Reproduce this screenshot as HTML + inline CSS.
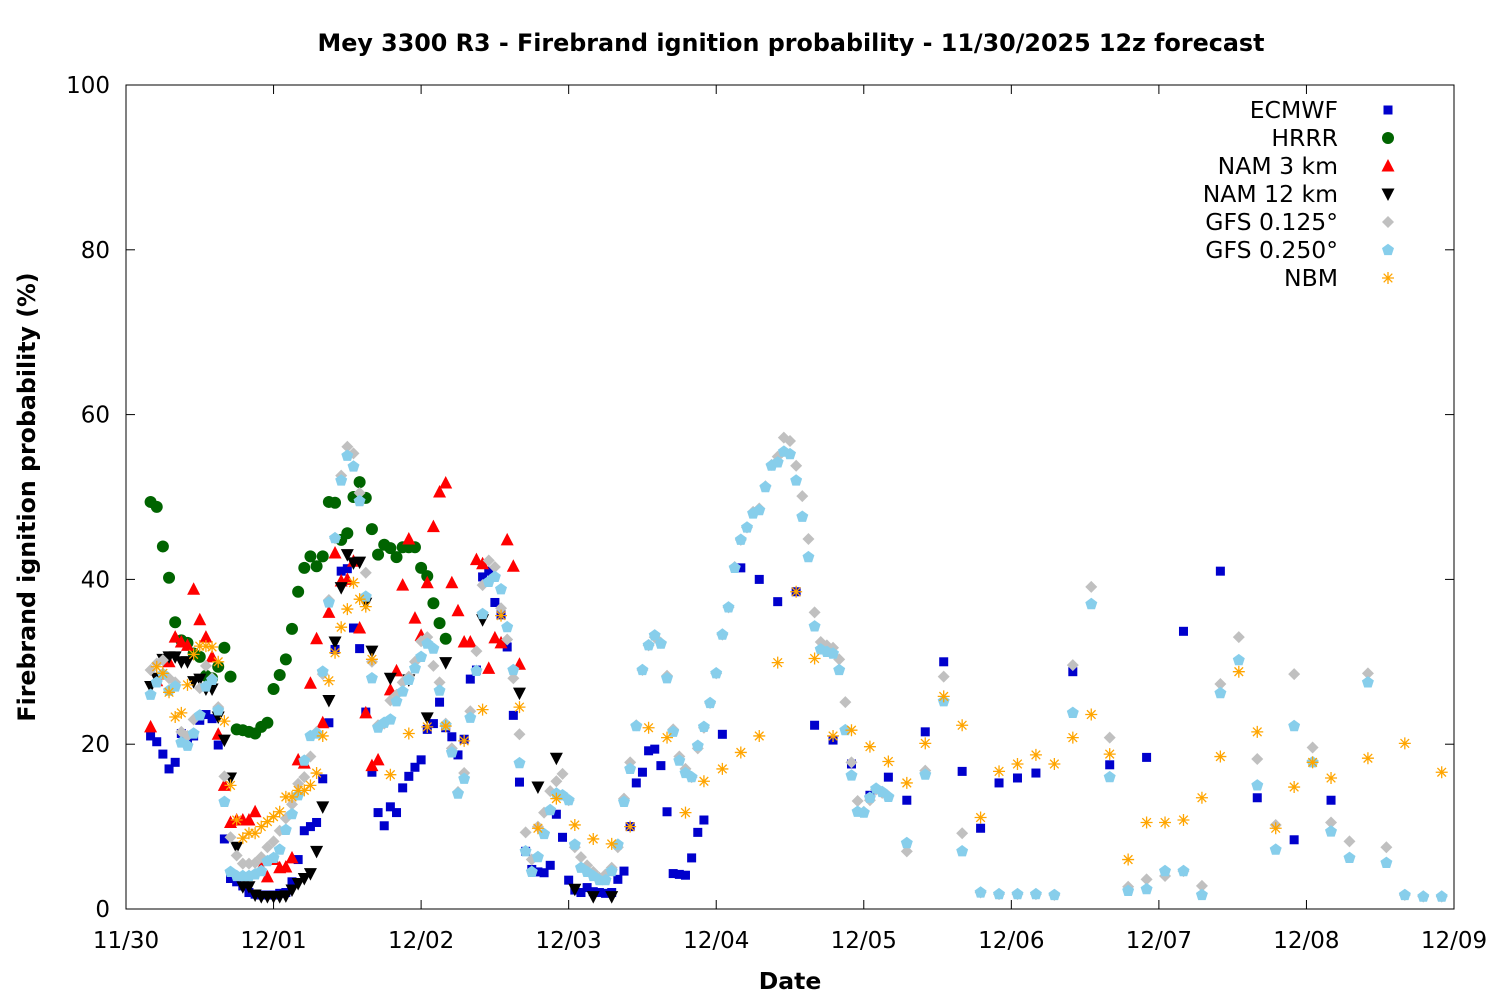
<!DOCTYPE html>
<html><head><meta charset="utf-8"><title>Firebrand ignition probability</title>
<style>
html,body{margin:0;padding:0;background:#fff;}
svg{display:block;font-family:"DejaVu Sans","Liberation Sans",sans-serif;}
</style></head>
<body>
<svg id="chart" width="1500" height="1000" viewBox="0 0 1500 1000" xmlns="http://www.w3.org/2000/svg">
<rect width="1500" height="1000" fill="#fff"/>
<text x="791" y="51" text-anchor="middle" font-size="23.8" font-weight="bold">Mey 3300 R3 - Firebrand ignition probability - 11/30/2025 12z forecast</text>
<text transform="translate(35,497) rotate(-90)" text-anchor="middle" font-size="23.7" font-weight="bold">Firebrand ignition probability (%)</text>
<text x="790" y="989" text-anchor="middle" font-size="23.5" font-weight="bold">Date</text>
<g id="axes"></g>
<g id="marks"></g>
<g id="legend"></g>
</svg>
<script>
function range(a,b,s){var r=[];for(var v=a;v<=b+1e-9;v+=s)r.push(v);return r;}
const xTickLabels=["11/30","12/01","12/02","12/03","12/04","12/05","12/06","12/07","12/08","12/09"];
const yTicks=[0,20,40,60,80,100];
const seriesNames=["ECMWF","HRRR","NAM 3 km","NAM 12 km","GFS 0.125°","GFS 0.250°","NBM"];

const ecmwfT=[...range(4,94,1),...range(97,148,3),...range(154,196,6)];
const ecmwfV=[21.0,20.3,18.8,17.0,17.8,21.3,20.6,21.0,22.9,23.6,
23.1,19.9,8.5,3.7,3.3,2.8,2.0,1.8,1.7,1.7,
1.7,1.9,2.0,3.3,6.0,9.5,10.0,10.5,15.8,22.6,
31.5,41.0,41.3,34.1,31.6,23.9,16.6,11.7,10.1,12.4,
11.7,14.7,16.1,17.2,18.1,21.8,22.5,25.1,22.0,20.9,
18.7,20.6,27.9,29.0,40.3,41.0,37.2,35.7,31.8,23.5,
15.4,7.0,4.8,4.5,4.4,5.3,11.5,8.7,3.5,2.3,
2.0,2.6,2.1,2.0,1.9,2.0,3.6,4.6,10.0,15.3,
16.6,19.2,19.4,17.4,11.8,4.3,4.2,4.1,6.2,9.3,
10.8,
21.2,41.4,40.0,37.3,38.5,22.3,20.5,17.6,13.8,16.0,13.2,21.5,30.0,16.7,9.8,15.3,15.9,16.5,
28.8,17.5,18.4,33.7,41.0,13.5,8.4,13.2];

const hrrrT=range(4,52,1);
const hrrrV=[49.4,48.8,44.0,40.2,34.8,32.6,32.3,31.0,30.6,28.3,
28.0,29.4,31.7,28.2,21.8,21.7,21.5,21.3,22.1,22.6,
26.7,28.4,30.3,34.0,38.5,41.4,42.8,41.6,42.8,49.4,
49.3,44.8,45.6,50.0,51.8,49.9,46.1,43.0,44.2,43.8,
42.7,43.9,43.9,43.9,41.4,40.4,37.1,34.7,32.8];

const nam3T=range(4,64,1);
const nam3V=[22.1,27.7,28.5,30.0,33.0,32.4,32.0,38.8,35.1,33.0,
30.6,21.2,15.0,10.5,10.8,10.8,10.8,11.8,5.0,3.9,
6.0,5.0,5.1,6.2,18.1,17.7,27.4,32.8,22.6,36.0,
43.2,39.8,40.0,42.2,34.1,23.8,17.4,18.1,null,26.6,
28.9,39.3,44.9,35.3,33.2,39.6,46.4,50.6,51.7,39.6,
36.2,32.4,32.4,42.4,41.9,29.2,32.9,32.3,44.8,41.6,
29.7];

const nam12T=[...range(4,40,1),43,46,49,52,58,64,67,70,73,76,79];
const nam12V=[27.0,28.0,30.3,30.6,30.6,30.0,30.0,27.6,27.9,26.7,
26.7,23.3,20.5,15.9,7.5,2.7,2.7,1.7,1.5,1.5,
1.5,1.5,1.6,2.3,3.1,3.7,4.3,7.0,12.4,25.3,
32.4,39.0,43.0,42.0,42.1,37.1,31.3,
28.0,27.8,23.2,29.9,35.1,26.2,14.8,18.3,2.4,1.5,1.5];

const gfsT=[...range(4,124,1),...range(127,214,3)];
const gfs125V=[29.0,29.8,30.2,28.0,27.5,21.5,21.0,23.0,26.8,29.5,
28.0,24.5,16.1,8.7,6.5,5.5,5.5,5.6,6.3,7.5,
8.2,9.5,11.0,12.7,15.2,16.0,18.5,21.5,28.5,37.5,
45.0,52.6,56.1,55.3,50.5,40.8,30.0,22.3,22.5,25.3,
26.0,27.5,28.2,30.0,32.5,33.0,29.5,27.5,22.5,19.5,
14.2,16.5,24.0,31.3,39.3,42.3,41.5,36.5,32.7,28.0,
21.2,9.3,6.0,10.0,11.7,14.3,15.5,16.4,13.2,7.5,
6.3,5.3,4.5,3.8,4.2,5.0,7.5,13.4,17.8,22.3,
29.0,32.0,33.0,32.3,28.3,21.8,18.5,17.0,16.0,19.5,
22.0,25.0,28.6,33.3,36.6,41.5,44.8,46.3,48.2,48.6,
51.3,53.9,54.9,57.2,56.8,53.8,50.1,44.9,36.0,32.4,
32.0,31.7,30.3,25.1,17.8,13.1,11.8,13.2,14.5,14.1,
13.7,
7.0,16.8,28.2,9.2,2.0,1.8,1.8,1.8,1.7,29.6,
39.1,20.8,2.7,3.6,4.0,4.6,2.8,27.3,33.0,18.2,
10.2,28.5,19.6,10.5,8.2,28.6,7.5,1.7,1.5,1.5];
const gfs250V=[26.0,27.5,28.5,26.5,27.0,20.2,19.8,21.3,23.5,27.0,
27.8,24.1,13.0,4.5,4.0,4.0,4.0,4.2,4.6,5.8,
6.2,7.2,9.6,11.5,13.8,18.0,21.0,21.3,28.8,37.2,
45.0,52.0,55.0,53.7,49.5,37.9,28.0,22.0,22.6,23.0,
25.2,26.4,27.8,29.2,30.6,32.2,31.6,26.5,22.3,19.0,
14.0,15.8,23.2,28.9,35.8,39.7,40.3,38.8,34.2,29.0,
17.7,7.0,4.5,6.3,9.1,12.0,14.0,13.8,13.2,7.8,
5.0,4.5,4.0,3.5,3.5,4.6,7.8,13.0,17.0,22.2,
29.0,32.0,33.2,32.2,28.0,21.5,18.0,16.5,16.0,19.8,
22.1,25.0,28.6,33.3,36.6,41.4,44.8,46.3,48.0,48.4,
51.2,53.8,54.2,55.5,55.2,52.0,47.6,42.7,34.3,31.5,
31.2,31.0,29.0,21.7,16.2,11.8,11.7,13.5,14.6,14.2,
13.6,
8.0,16.3,25.2,7.0,2.0,1.8,1.8,1.8,1.7,23.8,
37.0,16.0,2.2,2.4,4.6,4.6,1.7,26.2,30.2,15.0,
7.2,22.2,17.8,9.4,6.2,27.5,5.6,1.7,1.5,1.5];

const nbmT=[...range(5,40,1),...range(43,196,3),202,208,214];
const nbmV=[29.4,28.6,26.3,23.3,23.8,27.2,30.9,31.9,31.9,31.8,
30.0,22.8,15.0,10.8,8.6,9.2,9.2,10.0,10.6,11.2,
11.8,13.6,13.6,14.4,14.4,15.0,16.5,21.0,27.7,31.1,
34.2,36.4,39.6,37.6,36.7,30.3,
16.3,21.3,22.1,22.2,20.4,24.2,35.6,24.5,9.8,13.4,
10.2,8.5,7.9,10.0,22.0,20.8,11.7,15.5,17.0,19.0,
21.0,29.9,38.5,30.4,21.0,21.7,19.7,17.9,15.3,20.1,
25.8,22.3,11.1,16.7,17.6,18.7,17.6,20.8,23.6,18.8,
6.0,10.5,10.5,10.8,13.5,18.5,28.8,21.5,9.8,14.8,
17.8,15.9,
18.3,20.1,16.6];

const NS="http://www.w3.org/2000/svg";
const L=126,R=1454,T=85,B=909,HOURS=216;
function xs(h){return L+h*(R-L)/HOURS;}
function ys(v){return B-v*(B-T)/100;}
function el(tag,attrs,parent){var e=document.createElementNS(NS,tag);for(var k in attrs)e.setAttribute(k,attrs[k]);parent.appendChild(e);return e;}

const axes=document.getElementById('axes');
var frame=el('rect',{x:L,y:T,width:R-L,height:B-T,fill:'none',stroke:'#000','stroke-width':1},axes);


yTicks.forEach(function(v){
  var y=ys(v);
  var t1=el('line',{x1:L,y1:y,x2:L+9,y2:y,stroke:'#000'},axes);
  
  
  var t2=el('line',{x1:R,y1:y,x2:R-9,y2:y,stroke:'#000'},axes);
  
  
  var tx=el('text',{x:110,y:y+8,'text-anchor':'end','font-size':23},axes);
  tx.textContent=v;
  
  
});
xTickLabels.forEach(function(lab,i){
  var x=xs(i*24);
  var t1=el('line',{x1:x,y1:B,x2:x,y2:B-9,stroke:'#000'},axes);
  
  
  var t2=el('line',{x1:x,y1:T,x2:x,y2:T+9,stroke:'#000'},axes);
  
  
  var tx=el('text',{x:x,y:948,'text-anchor':'middle','font-size':23},axes);
  tx.textContent=lab;
  
  
});

function marker(type,x,y,g){
  var m;
  if(type==='square'){m=el('rect',{x:x-4.5,y:y-4.5,width:9,height:9,fill:'#0000cc'},g);}
  else if(type==='circle'){m=el('circle',{cx:x,cy:y,r:6,fill:'#006400'},g);}
  else if(type==='up'){m=el('polygon',{points:(x-6.5)+','+(y+5.5)+' '+(x+6.5)+','+(y+5.5)+' '+x+','+(y-7),fill:'#ff0000'},g);}
  else if(type==='down'){m=el('polygon',{points:(x-6.5)+','+(y-5.5)+' '+(x+6.5)+','+(y-5.5)+' '+x+','+(y+7),fill:'#000000'},g);}
  else if(type==='diamond'){m=el('polygon',{points:x+','+(y-6)+' '+(x+6)+','+y+' '+x+','+(y+6)+' '+(x-6)+','+y,fill:'#c0c0c0'},g);}
  else if(type==='pent'){var p=[];for(var k=0;k<5;k++){var a=-Math.PI/2+k*2*Math.PI/5;p.push((x+6.3*Math.cos(a)).toFixed(1)+','+(y+6.3*Math.sin(a)).toFixed(1));}
    m=el('polygon',{points:p.join(' '),fill:'#87ceeb'},g);}
  else {m=el('path',{d:'M'+(x-6)+' '+y+'H'+(x+6)+'M'+x+' '+(y-6)+'V'+(y+6)+'M'+(x-4.3)+' '+(y-4.3)+'L'+(x+4.3)+' '+(y+4.3)+'M'+(x-4.3)+' '+(y+4.3)+'L'+(x+4.3)+' '+(y-4.3),stroke:'#ffa500','stroke-width':1.3,fill:'none'},g);}
  return m;
}
const series=[
  {t:ecmwfT,v:ecmwfV,type:'square',name:'ecmwf'},
  {t:hrrrT,v:hrrrV,type:'circle',name:'hrrr'},
  {t:nam3T,v:nam3V,type:'up',name:'nam-3km'},
  {t:nam12T,v:nam12V,type:'down',name:'nam-12km'},
  {t:gfsT,v:gfs125V,type:'diamond',name:'gfs-0125'},
  {t:gfsT,v:gfs250V,type:'pent',name:'gfs-0250'},
  {t:nbmT,v:nbmV,type:'star',name:'nbm'}
];
const marks=document.getElementById('marks');
series.forEach(function(s){
  var g=el('g',{},marks);
  
  
  var n=Math.min(s.t.length,s.v.length);
  for(var i=0;i<n;i++){
    if(s.v[i]===null)continue;
    var m=marker(s.type,xs(s.t[i]),ys(s.v[i]),g);
    
    
  }
});
const legend=document.getElementById('legend');
seriesNames.forEach(function(nm,i){
  var y=110+i*28;
  var tx=el('text',{x:1338,y:y+8,'text-anchor':'end','font-size':23.5},legend);
  tx.textContent=nm;
  
  
  var m=marker(series[i].type,1388,y,legend);
  
  
});
</script>
</body></html>
